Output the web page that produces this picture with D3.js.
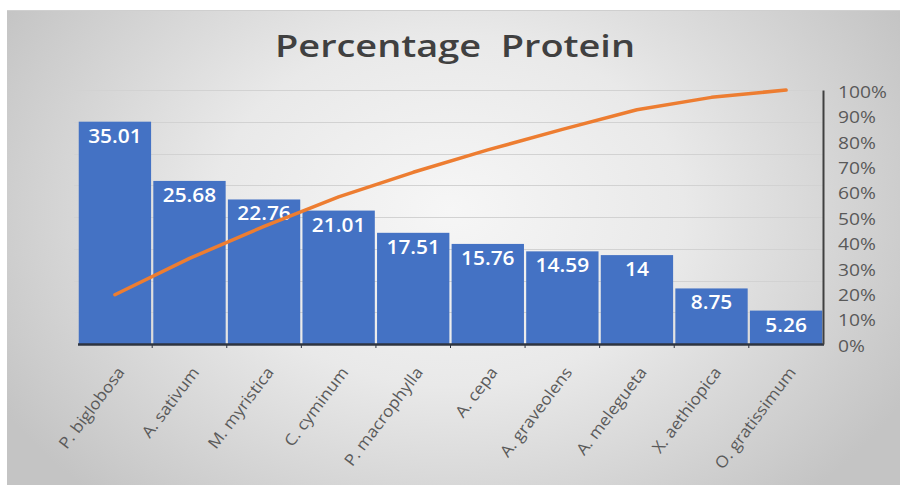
<!DOCTYPE html>
<html>
<head>
<meta charset="utf-8">
<script src="https://cdn.jsdelivr.net/npm/d3@7"></script>
<style>
  html, body { margin: 0; padding: 0; background: #ffffff; }
  svg text { font-family: "Open Sans", "Noto Sans", sans-serif; }
</style>
</head>
<body>
<svg id="chart" width="900" height="485"></svg>
<script>
// Protein content (%) per spice, sorted descending, with the cumulative share line
const species = ["P. biglobosa", "A. sativum", "M. myristica", "C. cyminum", "P. macrophylla",
                 "A. cepa", "A. graveolens", "A. melegueta", "X. aethiopica", "O. gratissimum"];
const protein = [35.01, 25.68, 22.76, 21.01, 17.51, 15.76, 14.59, 14, 8.75, 5.26];
const cumulativeShare = [19.4, 33.7, 46.3, 57.9, 67.6, 76.4, 84.5, 92.2, 97.1, 100];
const proteinGridTicks = [0, 5, 10, 15, 20, 25, 30, 35, 40];
const percentTicks = [0, 10, 20, 30, 40, 50, 60, 70, 80, 90, 100];

const svg = d3.select("#chart");
const W = 900, H = 485;
const plot = { left: 78, right: 823, top: 90, bottom: 344 };

// Widen text runs horizontally by a factor (wide-set lettering)
function widen(sel, k) {
  sel.each(function () {
    const len = this.getComputedTextLength();
    d3.select(this).attr("textLength", len * k).attr("lengthAdjust", "spacingAndGlyphs");
  });
}

// Chart area background: soft radial gradient, light centre to grey edges
const defs = svg.append("defs");
const grad = defs.append("radialGradient")
  .attr("id", "bg").attr("gradientUnits", "userSpaceOnUse")
  .attr("cx", 450).attr("cy", 210).attr("r", 520)
  .attr("gradientTransform", "translate(450,210) scale(1,0.75) translate(-450,-210)");
grad.append("stop").attr("offset", "0%").attr("stop-color", "#f6f6f6");
grad.append("stop").attr("offset", "45%").attr("stop-color", "#e9e9e9");
grad.append("stop").attr("offset", "100%").attr("stop-color", "#c4c4c4");

svg.append("rect").attr("x", 7).attr("y", 10).attr("width", W - 7).attr("height", H - 10)
  .attr("fill", "url(#bg)");
svg.append("line").attr("x1", 7).attr("x2", W).attr("y1", 10.5).attr("y2", 10.5)
  .attr("stroke", "#cfcfcf").attr("stroke-width", 1);

// Title
svg.append("text")
  .attr("x", 455).attr("y", 57)
  .attr("text-anchor", "middle")
  .style("white-space", "pre")
  .attr("font-size", 31).attr("font-weight", 600).attr("fill", "#404040")
  .attr("textLength", 360).attr("lengthAdjust", "spacingAndGlyphs")
  .text("Percentage  Protein");

// Scales
const x = d3.scaleBand().domain(species).range([plot.left, plot.right]).paddingInner(0.03).paddingOuter(0.01);
const y = d3.scaleLinear().domain([0, 40]).range([plot.bottom, plot.top]);
const yPct = d3.scaleLinear().domain([0, 100]).range([plot.bottom, plot.top]);

// Horizontal gridlines from the (hidden) protein axis
svg.append("g").attr("class", "grid")
  .selectAll("line").data(proteinGridTicks.filter(d => d > 0)).join("line")
  .attr("x1", plot.left - 4).attr("x2", plot.right)
  .attr("y1", d => Math.round(y(d)) + 0.5).attr("y2", d => Math.round(y(d)) + 0.5)
  .attr("stroke", "#d2d2d2").attr("stroke-width", 1.2);

// Bars
svg.append("g").selectAll("rect").data(species).join("rect")
  .attr("x", d => x(d))
  .attr("y", (d, i) => y(protein[i]))
  .attr("width", x.bandwidth())
  .attr("height", (d, i) => y(0) - y(protein[i]))
  .attr("fill", "#4472c4");

// Value labels inside bar tops
const valueLabels = svg.append("g").selectAll("text").data(species).join("text")
  .attr("x", d => x(d) + x.bandwidth() / 2)
  .attr("y", (d, i) => y(protein[i]) + 21)
  .attr("text-anchor", "middle")
  .attr("font-size", 19).attr("font-weight", 600).attr("fill", "#ffffff")
  .text((d, i) => protein[i]);
widen(valueLabels, 1.1);

// Category axis
const xAxis = svg.append("g").attr("transform", `translate(0,${plot.bottom})`)
  .call(d3.axisBottom(x).tickSize(0).tickPadding(0));
xAxis.select(".domain").remove();
const catLabels = xAxis.selectAll(".tick text")
  .attr("font-size", 16).attr("fill", "#5a5a5a")
  .attr("text-anchor", "end")
  .attr("dy", "0.35em")
  .attr("transform", "translate(6,25) rotate(-53)");
widen(catLabels, 1.08);
// Small tick marks between categories
svg.append("g").selectAll("line").data(species.slice(1)).join("line")
  .attr("x1", d => x(d) - x.step() * x.paddingInner() / 2)
  .attr("x2", d => x(d) - x.step() * x.paddingInner() / 2)
  .attr("y1", plot.bottom).attr("y2", plot.bottom + 4)
  .attr("stroke", "#2e3440").attr("stroke-width", 1);
svg.append("line")
  .attr("x1", plot.left).attr("x2", plot.right + 1)
  .attr("y1", plot.bottom + 0.5).attr("y2", plot.bottom + 0.5)
  .attr("stroke", "#2e3440").attr("stroke-width", 2.5);

// Cumulative percentage axis on the right
const yAxis = svg.append("g").attr("transform", `translate(${plot.right},0)`)
  .call(d3.axisRight(yPct).tickValues(percentTicks).tickFormat(d => d + "%").tickSize(0).tickPadding(15));
yAxis.select(".domain").attr("stroke", "#404040").attr("stroke-width", 2);
const pctLabels = yAxis.selectAll(".tick text").attr("font-size", 16).attr("fill", "#595959").attr("dy", "0.45em");
widen(pctLabels, 1.2);

// Cumulative share line through bar centres
const line = d3.line()
  .x(d => x(d) + x.bandwidth() / 2)
  .y((d, i) => yPct(cumulativeShare[i]));
svg.append("path").datum(species)
  .attr("d", line)
  .attr("fill", "none")
  .attr("stroke", "#ed7d31")
  .attr("stroke-width", 3.5)
  .attr("stroke-linejoin", "round")
  .attr("stroke-linecap", "round");
</script>
</body>
</html>
